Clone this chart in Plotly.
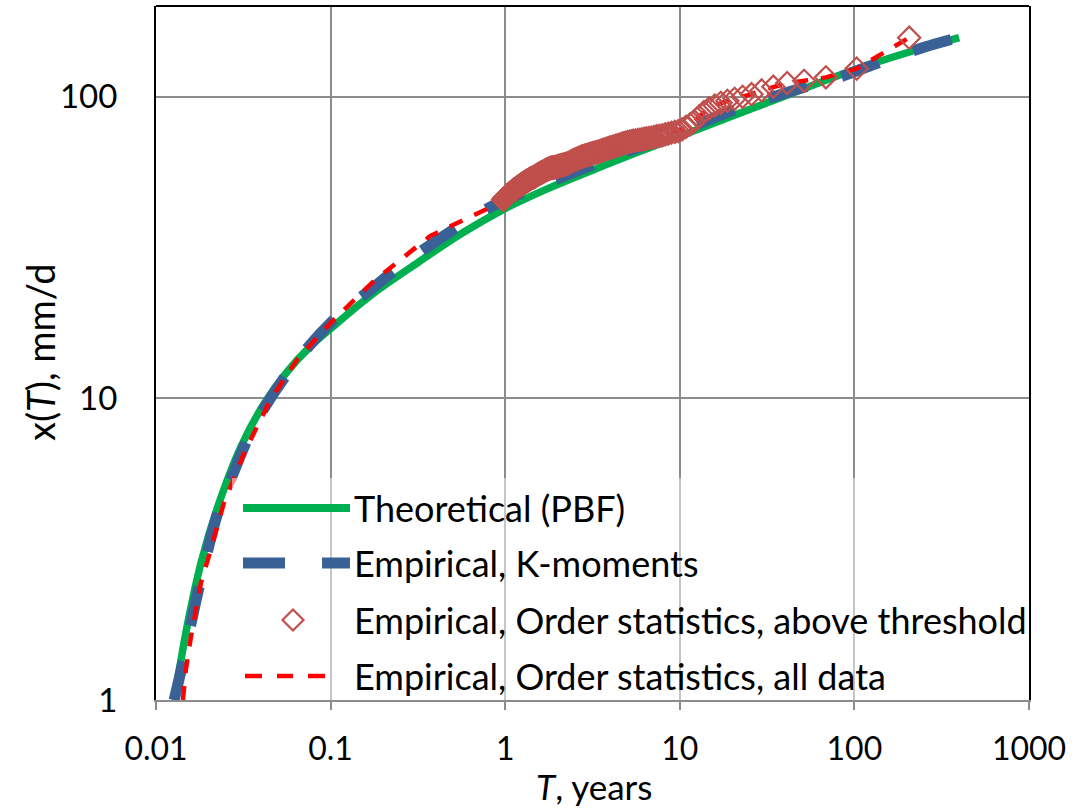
import plotly.graph_objects as go

# Theoretical PBF quantile curve: return period T (years) vs daily depth (mm/d)
theo_T = [0.01267, 0.0134, 0.0152, 0.0181, 0.0226, 0.0306, 0.0416, 0.0566, 0.076, 0.102,
          0.169, 0.316, 0.562, 1.0, 1.78, 3.16, 5.62, 10, 31.6, 100, 200, 398]
theo_x = [1.0, 1.20, 1.80, 2.85, 4.38, 6.9, 9.6, 12.3, 14.8, 17.2,
          21.9, 28.2, 35.2, 42.6, 49.8, 57.1, 65.2, 74.0, 95.5, 123, 140, 157]

# Empirical curve from K-moments
kmom_T = [0.0127, 0.0139, 0.0165, 0.0188, 0.0226, 0.0268, 0.0373, 0.0659, 0.1156, 0.169,
          0.262, 0.748, 1.0, 2.0, 5.0, 10, 14, 20, 42.5, 85, 144, 250, 408]
kmom_x = [1.0, 1.25, 1.99, 2.77, 4.18, 5.38, 8.32, 13.6, 19.3, 22.9,
          28.0, 41.8, 45.5, 53.5, 66.0, 76.0, 83.0, 90.0, 104, 117, 131, 146, 158]

# Exceedances above threshold, sorted from largest (rank 1) downwards, mm/d
record_years = 206.0
above_thr_x = [
    157, 124, 116, 113, 111, 108, 105, 102, 100, 98.5,
    97, 95.5, 93.5, 91.5, 89, 86, 83, 81, 79.5, 78,
    77, 76.5, 76, 75.5,
    75, 74.5, 74.2, 74, 73.5, 73.2,
    73, 72.8, 72.5, 72.3, 72, 71.8, 71.6, 71.5,
    71.2, 71, 70.7, 70.5, 70.2, 69.9, 69.6, 69.3, 69.0,
    68.7, 68.5, 68.2, 68, 67.8, 67.5, 67.3, 67, 66.8, 66.5, 66.3, 66.0,
    65.8, 65.6, 65.5, 65.3, 65.1, 65.0, 64.8, 64.6, 64.5, 64.3, 64.1, 64.0, 63.8, 63.6, 63.5,
    63.3, 63.1, 62.9, 62.7, 62.5, 62.3, 62.1, 61.9, 61.7, 61.5, 61.3, 61.1, 60.8, 60.6, 60.4,
    60.2, 60.0,
    59.9, 59.8, 59.7, 59.6, 59.5, 59.4, 59.3, 59.2, 59.1, 59.0, 58.9, 58.8, 58.7, 58.6, 58.5,
    58.4, 58.3, 58.3, 58.2, 58.2, 58.1, 58.1, 58.0,
    57.9, 57.7, 57.6, 57.4, 57.3, 57.2, 57.0, 56.9, 56.7, 56.6, 56.5, 56.3, 56.2, 56.0, 55.9,
    55.8, 55.6, 55.5, 55.3, 55.2, 55.1, 54.9, 54.8, 54.6, 54.5, 54.4, 54.2, 54.1, 54.0,
    53.9, 53.8, 53.6, 53.5, 53.4, 53.3, 53.2, 53.0, 52.9, 52.8, 52.7, 52.6, 52.4, 52.3, 52.2,
    52.1, 52.0, 51.8, 51.7, 51.6, 51.5, 51.4, 51.2, 51.1, 51.0, 50.9, 50.8, 50.6, 50.5,
    50.4, 50.3, 50.2, 50.0, 49.9, 49.8, 49.7, 49.5, 49.4, 49.3, 49.2, 49.1, 48.9, 48.8, 48.7,
    48.6, 48.4, 48.3, 48.2, 48.1, 48.0, 47.8, 47.7, 47.6, 47.5, 47.3, 47.2, 47.1, 47.0, 46.9,
    46.7, 46.6, 46.5, 46.5,
    46.3, 46.1, 45.9, 45.7, 45.6, 45.5,
]
# empirical return period of each exceedance: record length / rank
above_thr_T = [record_years / (i + 1) for i in range(len(above_thr_x))]

# Order statistics of all data below the threshold range (ascending T)
low_T = [0.01426, 0.01483, 0.01585, 0.0181, 0.0206, 0.0245, 0.0275, 0.0314, 0.0349, 0.0454,
         0.0646, 0.1, 0.177, 0.373, 0.90]
low_x = [1.0, 1.26, 1.62, 2.45, 3.15, 4.51, 5.3, 6.42, 7.31, 9.93,
         13.5, 17.8, 24.5, 34.6, 44.1]
all_T = low_T + above_thr_T[::-1]
all_x = low_x + above_thr_x[::-1]

xticks = [0.01, 0.1, 1, 10, 100, 1000]
xtick_text = ["0.01", "0.1", "1", "10", "100", "1000"]
yticks = [1, 10, 100]
ytick_text = ["1", "10", "100"]

legend_labels = ["Theoretical (PBF)", "Empirical, K-moments",
                 "Empirical, Order statistics, above threshold",
                 "Empirical, Order statistics, all data"]

GREEN = "#00b050"
BLUE = "#3a6195"
RED = "#ff0000"
DIAMOND = "#c0504d"
GRID = "#8c8c8c"
FONT = "Lato"

W, H = 1085, 810
L, R, T_, B = 156, 1029, 6, 700


def fx(px):
    return (px - L) / (R - L)


def fy(py):
    return (B - py) / (B - T_)


fig = go.Figure()
fig.add_trace(go.Scatter(x=theo_T, y=theo_x, mode="lines",
                         line=dict(color=GREEN, width=7.5, shape="spline", smoothing=1.0),
                         showlegend=False))
fig.add_trace(go.Scatter(x=kmom_T, y=kmom_x, mode="lines",
                         line=dict(color=BLUE, width=11, dash="40px,36px",
                                   shape="spline", smoothing=1.0),
                         showlegend=False))
fig.add_trace(go.Scatter(x=all_T, y=all_x, mode="lines",
                         line=dict(color=RED, width=4.5, dash="14px,13px"),
                         showlegend=False))
fig.add_trace(go.Scatter(x=above_thr_T, y=above_thr_x, mode="markers",
                         marker=dict(symbol="diamond-open", size=17, color=DIAMOND,
                                     line=dict(color=DIAMOND, width=2.2)),
                         showlegend=False))

shapes = [
    # semi-transparent legend panel
    dict(type="rect", xref="paper", yref="paper", x0=fx(232), x1=1, y0=0, y1=fy(478),
         fillcolor="rgba(255,255,255,0.5)", line=dict(width=0), layer="above"),
    # top border of plot area
    dict(type="line", xref="paper", yref="paper", x0=0, x1=1, y0=1, y1=1,
         line=dict(color="black", width=2), layer="above"),
]

rows = [508, 563, 620, 676]
# legend samples
shapes.append(dict(type="line", xref="paper", yref="paper", x0=fx(243), x1=fx(350),
                   y0=fy(rows[0]), y1=fy(rows[0]), line=dict(color=GREEN, width=8),
                   layer="above"))
for a, b in [(243, 285), (322, 350)]:
    shapes.append(dict(type="line", xref="paper", yref="paper", x0=fx(a), x1=fx(b),
                       y0=fy(rows[1]), y1=fy(rows[1]), line=dict(color=BLUE, width=11),
                       layer="above"))
cx, cy, d = 293, rows[2], 10.5
path = (f"M {fx(cx)},{fy(cy - d)} L {fx(cx + d)},{fy(cy)} "
        f"L {fx(cx)},{fy(cy + d)} L {fx(cx - d)},{fy(cy)} Z")
shapes.append(dict(type="path", xref="paper", yref="paper", path=path,
                   line=dict(color=DIAMOND, width=2.2), layer="above"))
for a, b in [(245, 262), (277, 293), (308, 325)]:
    shapes.append(dict(type="line", xref="paper", yref="paper", x0=fx(a), x1=fx(b),
                       y0=fy(rows[3]), y1=fy(rows[3]), line=dict(color=RED, width=4.5),
                       layer="above"))

annotations = []
for lab, ry in zip(legend_labels, rows):
    annotations.append(dict(xref="paper", yref="paper", x=fx(352), y=fy(ry),
                            xanchor="left", yanchor="middle", showarrow=False,
                            text=lab, font=dict(family=FONT, size=36, color="black")))
annotations.append(dict(xref="paper", yref="paper", x=fx(594), y=fy(786),
                        xanchor="center", yanchor="middle", showarrow=False,
                        text="<i>T</i>, years", font=dict(family=FONT, size=35, color="black")))
annotations.append(dict(xref="paper", yref="paper", x=fx(40), y=fy(352),
                        xanchor="center", yanchor="middle", showarrow=False, textangle=-90,
                        text="x(<i>T</i>), mm/d", font=dict(family=FONT, size=38, color="black")))

fig.update_layout(
    width=W, height=H,
    margin=dict(l=L, r=W - R, t=T_, b=H - B),
    paper_bgcolor="white", plot_bgcolor="white",
    shapes=shapes, annotations=annotations,
    showlegend=False,
    font=dict(family=FONT, size=33, color="black"),
)
fig.update_xaxes(type="log", range=[-2, 3], tickvals=xticks, ticktext=xtick_text,
                 showgrid=True, gridcolor=GRID, gridwidth=2, zeroline=False,
                 showline=True, linecolor=GRID, linewidth=2,
                 ticks="outside", ticklen=8, tickwidth=2, tickcolor=GRID,
                 ticklabelstandoff=12,
                 tickfont=dict(family=FONT, size=32, color="black"))
fig.update_yaxes(type="log", range=[0, 2.30103], tickvals=yticks, ticktext=ytick_text,
                 showgrid=True, gridcolor=GRID, gridwidth=2, zeroline=False,
                 showline=True, linecolor="black", linewidth=2, mirror=True,
                 ticks="", ticklabelstandoff=30,
                 tickfont=dict(family=FONT, size=33, color="black"))

fig.write_html("out.html")
